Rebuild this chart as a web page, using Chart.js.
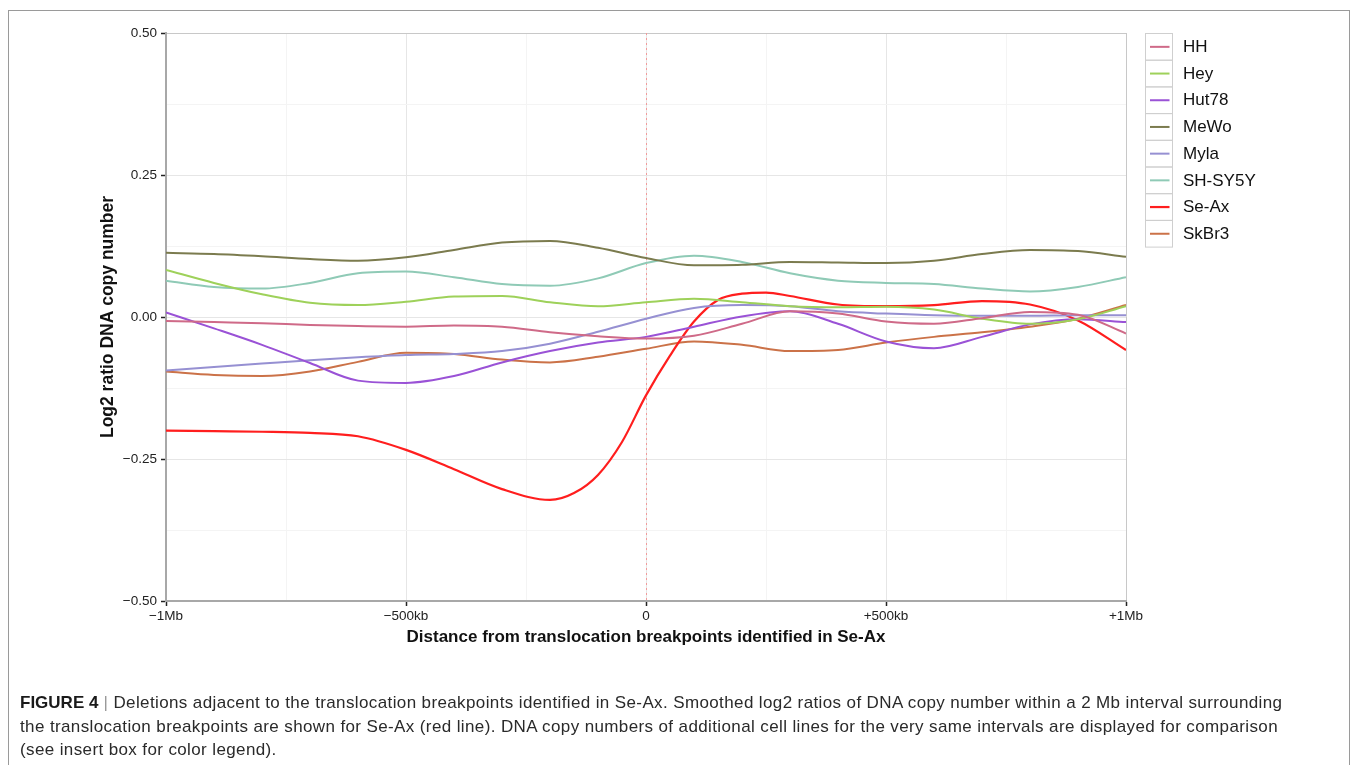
<!DOCTYPE html>
<html>
<head>
<meta charset="utf-8">
<script src="https://cdn.jsdelivr.net/npm/chart.js@4/dist/chart.umd.min.js"></script>
<style>
  html, body { margin: 0; padding: 0; background: #fff; }
  body { width: 1357px; height: 765px; position: relative; overflow: hidden; font-family: "Liberation Sans", Arial, sans-serif; }
  #frame { position: absolute; left: 8px; top: 10px; width: 1342px; height: 760px; border: 1px solid #9a9a9a; box-sizing: border-box; }
  #wrap { position: absolute; left: 0; top: 0; width: 1357px; height: 765px; }
  #caption { position: absolute; left: 20px; top: 691px; font-size: 17px; letter-spacing: 0.38px; line-height: 23.5px; color: #2a2a2a; white-space: nowrap; }
  #caption b { color: #1a1a1a; letter-spacing: 0; }
  #caption .bar { color: #999; }
</style>
</head>
<body>
<div id="frame"></div>
<div id="wrap"><canvas id="c" width="1357" height="765"></canvas></div>
<div id="caption">
  <div><b>FIGURE 4</b> <span class="bar">|</span> Deletions adjacent to the translocation breakpoints identified in Se-Ax. Smoothed log2 ratios of DNA copy number within a 2 Mb interval surrounding</div>
  <div>the translocation breakpoints are shown for Se-Ax (red line). DNA copy numbers of additional cell lines for the very same intervals are displayed for comparison</div>
  <div>(see insert box for color legend).</div>
</div>
<script>
// ---- data (distance from breakpoint in kb; log2 ratio) ----
const positions = [-1000,-900,-800,-700,-600,-500,-400,-300,-200,-100,0,100,200,300,400,500,600,700,800,900,1000];
const seriesNames = ["HH","Hey","Hut78","MeWo","Myla","SH-SY5Y","Se-Ax","SkBr3"];
const HH     = [-0.007,-0.009,-0.011,-0.014,-0.016,-0.017,-0.015,-0.017,-0.027,-0.034,-0.038,-0.033,-0.012,0.010,0.006,-0.008,-0.012,-0.002,0.009,0.004,-0.029];
const Hey    = [0.083,0.060,0.040,0.025,0.021,0.027,0.036,0.037,0.026,0.019,0.026,0.032,0.026,0.019,0.017,0.018,0.013,-0.003,-0.012,-0.004,0.019];
const Hut78  = [0.008,-0.020,-0.049,-0.081,-0.112,-0.116,-0.104,-0.080,-0.060,-0.045,-0.035,-0.017,0.001,0.010,-0.012,-0.043,-0.055,-0.035,-0.013,-0.004,-0.009];
const MeWo   = [0.113,0.111,0.107,0.102,0.099,0.105,0.118,0.131,0.134,0.122,0.104,0.091,0.092,0.097,0.096,0.095,0.099,0.111,0.118,0.116,0.106];
const Myla   = [-0.094,-0.088,-0.082,-0.076,-0.071,-0.067,-0.065,-0.060,-0.047,-0.026,-0.003,0.016,0.021,0.019,0.010,0.006,0.003,0.002,0.002,0.003,0.003];
const SHSY5Y = [0.064,0.053,0.050,0.060,0.077,0.080,0.070,0.058,0.055,0.068,0.095,0.108,0.097,0.077,0.064,0.060,0.058,0.050,0.045,0.053,0.070];
const SkBr3  = [-0.096,-0.102,-0.104,-0.096,-0.079,-0.063,-0.065,-0.075,-0.080,-0.070,-0.056,-0.043,-0.049,-0.060,-0.058,-0.045,-0.035,-0.027,-0.017,-0.003,0.021];
const seAxPositions = [-1000,-900,-800,-700,-600,-500,-400,-300,-200,-150,-100,-50,0,50,100,150,200,250,300,400,500,600,700,800,900,1000];
const SeAx   = [-0.200,-0.201,-0.202,-0.204,-0.210,-0.234,-0.268,-0.303,-0.322,-0.310,-0.278,-0.220,-0.138,-0.068,-0.008,0.030,0.041,0.043,0.037,0.022,0.019,0.021,0.028,0.022,-0.006,-0.058];
const yTickLabels = {"0.5":"0.50","0.25":"0.25","0":"0.00","-0.25":"\u22120.25","-0.5":"\u22120.50"};
const xTickLabels = {"-1000":"\u22121Mb","-500":"\u2212500kb","0":"0","500":"+500kb","1000":"+1Mb"};
const colors = {"HH":"#cf6a88","Hey":"#9ed15a","Hut78":"#9a52d6","MeWo":"#7b7b4e","Myla":"#9690d2","SH-SY5Y":"#8fcab6","Se-Ax":"#ff1e1e","SkBr3":"#cb7248"};

function pts(xs, ys) { return xs.map((x, i) => ({x: x, y: ys[i]})); }
const seriesData = {
  "HH": pts(positions, HH), "Hey": pts(positions, Hey), "Hut78": pts(positions, Hut78),
  "MeWo": pts(positions, MeWo), "Myla": pts(positions, Myla), "SH-SY5Y": pts(positions, SHSY5Y),
  "Se-Ax": pts(seAxPositions, SeAx), "SkBr3": pts(positions, SkBr3)
};

const FONT = '"Liberation Sans", Arial, sans-serif';
const isMajorY = v => Math.abs(Math.round(v * 4) - v * 4) < 1e-6;
const isMajorX = v => Math.abs(v) % 500 === 0;

const breakpointLine = {
  id: 'breakpointLine',
  beforeDatasetsDraw(chart) {
    const {ctx, chartArea, scales} = chart;
    const x = Math.round(scales.x.getPixelForValue(0)) + 0.5;
    ctx.save();
    ctx.strokeStyle = '#f29a9a';
    ctx.lineWidth = 1;
    ctx.setLineDash([2, 3]);
    ctx.beginPath();
    ctx.moveTo(x, chartArea.top);
    ctx.lineTo(x, chartArea.bottom);
    ctx.stroke();
    ctx.restore();
  }
};

const boxLegend = {
  id: 'boxLegend',
  afterDraw(chart) {
    const {ctx} = chart;
    const left = 1145.5, top = 33.5, cellW = 27, cellH = 26.7;
    ctx.save();
    chart.data.datasets.forEach((ds, i) => {
      const y0 = top + i * cellH;
      ctx.strokeStyle = '#cfcfcf';
      ctx.lineWidth = 1;
      ctx.setLineDash([]);
      ctx.strokeRect(left, y0, cellW, cellH);
      ctx.strokeStyle = ds.borderColor;
      ctx.lineWidth = ds.label === 'Se-Ax' ? 2.2 : 2;
      ctx.beginPath();
      ctx.moveTo(left + 4.5, y0 + cellH / 2);
      ctx.lineTo(left + 24, y0 + cellH / 2);
      ctx.stroke();
      ctx.fillStyle = '#111';
      ctx.font = '17px ' + FONT;
      ctx.textBaseline = 'middle';
      ctx.textAlign = 'left';
      ctx.fillText(ds.label, 1183, y0 + cellH / 2 + 0.5);
    });
    ctx.restore();
  }
};

const datasets = seriesNames.map(name => ({
  label: name,
  data: seriesData[name],
  borderColor: colors[name],
  backgroundColor: colors[name],
  borderWidth: name === 'Se-Ax' ? 2.2 : 2,
  pointRadius: 0,
  cubicInterpolationMode: 'monotone',
  fill: false
}));

new Chart(document.getElementById('c'), {
  type: 'line',
  data: { datasets: datasets },
  options: {
    responsive: false,
    animation: false,
    devicePixelRatio: 1,
    layout: { padding: { left: 0, top: 33, right: 231, bottom: 0 } },
    plugins: { legend: { display: false }, tooltip: { enabled: false } },
    scales: {
      x: {
        type: 'linear', min: -1000, max: 1000,
        afterFit(scale) { scale.height = 164; },
        ticks: {
          stepSize: 250, autoSkip: false, maxRotation: 0, padding: 2,
          color: '#222', font: { family: FONT, size: 13.5 },
          callback: v => (xTickLabels[String(v)] !== undefined ? xTickLabels[String(v)] : '')
        },
        grid: {
          color: c => (c.tick && c.tick.value === 1000 ? '#c8c8c8' : (c.tick && isMajorX(c.tick.value) ? '#e6e6e6' : '#f4f4f4')),
          lineWidth: 1,
          tickLength: 5,
          tickColor: c => (c.tick && isMajorX(c.tick.value) ? '#222' : 'rgba(0,0,0,0)'),
          tickWidth: 1.5
        },
        border: { display: true, color: '#a8a8a8', width: 2 },
        title: {
          display: true,
          text: 'Distance from translocation breakpoints identified in Se-Ax',
          color: '#111',
          font: { family: FONT, size: 17, weight: 'bold' },
          padding: { top: 0, bottom: 117 }
        }
      },
      y: {
        type: 'linear', min: -0.5, max: 0.5,
        afterFit(scale) { scale.width = 166; },
        ticks: {
          stepSize: 0.125, autoSkip: false, padding: 4,
          color: '#222', font: { family: FONT, size: 13.5 },
          callback: v => { const k = String(Math.round(v * 1000) / 1000); return yTickLabels[k] !== undefined ? yTickLabels[k] : ''; }
        },
        grid: {
          color: c => (c.tick && Math.abs(c.tick.value - 0.5) < 1e-6 ? '#c8c8c8' : (c.tick && isMajorY(c.tick.value) ? '#e6e6e6' : '#f4f4f4')),
          lineWidth: 1,
          tickLength: 5,
          tickColor: c => (c.tick && isMajorY(c.tick.value) ? '#222' : 'rgba(0,0,0,0)'),
          tickWidth: 1.5
        },
        border: { display: true, color: '#a8a8a8', width: 2 },
        title: {
          display: true,
          text: 'Log2 ratio DNA copy number',
          color: '#111',
          font: { family: FONT, size: 17.5, weight: 'bold' },
          padding: { top: 98, bottom: 0 }
        }
      }
    }
  },
  plugins: [breakpointLine, boxLegend]
});
</script>
</body>
</html>
